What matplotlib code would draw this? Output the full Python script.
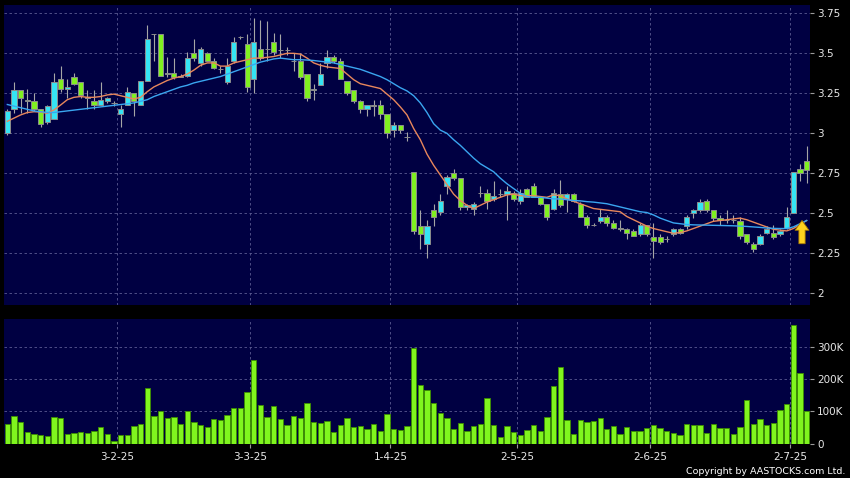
import matplotlib
matplotlib.use("Agg")
import matplotlib.pyplot as plt
from matplotlib.ticker import FixedLocator, FuncFormatter
import numpy as np
import pandas as pd

# HKEX trading days, 6 Jan - 4 Jul 2025
holidays = ["2025-01-29", "2025-01-30", "2025-01-31", "2025-04-04", "2025-04-18",
            "2025-04-21", "2025-05-01", "2025-05-05", "2025-07-01"]
dates = [d for d in pd.bdate_range("2025-01-06", "2025-07-04")
         if d.strftime("%Y-%m-%d") not in holidays]

# daily prices
opens = [3.00, 3.15, 3.27, 3.21, 3.20, 3.15, 3.07, 3.09, 3.34, 3.28,
         3.35, 3.32, 3.22, 3.20, 3.18, 3.20, 3.19, 3.12, 3.18, 3.25,
         3.18, 3.33, 3.62, 3.62, 3.37, 3.38, 3.35, 3.36, 3.50, 3.44,
         3.50, 3.45, 3.40, 3.32, 3.45, 3.60, 3.56, 3.34, 3.53, 3.53,
         3.57, 3.52, 3.52, 3.45, 3.45, 3.37, 3.27, 3.30, 3.44, 3.48,
         3.45, 3.33, 3.27, 3.20, 3.15, 3.18, 3.18, 3.12, 3.02, 3.05,
         2.98, 2.76, 2.42, 2.31, 2.52, 2.51, 2.67, 2.75, 2.72, 2.54,
         2.53, 2.63, 2.63, 2.59, 2.62, 2.62, 2.63, 2.58, 2.65, 2.67,
         2.60, 2.56, 2.53, 2.62, 2.59, 2.62, 2.56, 2.48, 2.43, 2.45,
         2.48, 2.44, 2.41, 2.40, 2.39, 2.37, 2.43, 2.35, 2.35, 2.34,
         2.37, 2.40, 2.42, 2.50, 2.52, 2.58, 2.52, 2.47, 2.46, 2.46,
         2.45, 2.37, 2.31, 2.31, 2.38, 2.38, 2.37, 2.41, 2.50, 2.78,
         2.83]
highs = [3.15, 3.32, 3.27, 3.28, 3.25, 3.15, 3.18, 3.38, 3.42, 3.34,
         3.38, 3.32, 3.27, 3.27, 3.32, 3.23, 3.20, 3.18, 3.29, 3.25,
         3.33, 3.68, 3.62, 3.62, 3.48, 3.47, 3.37, 3.51, 3.59, 3.54,
         3.51, 3.47, 3.42, 3.47, 3.60, 3.61, 3.62, 3.72, 3.71, 3.70,
         3.63, 3.62, 3.54, 3.50, 3.50, 3.37, 3.31, 3.44, 3.52, 3.49,
         3.47, 3.33, 3.27, 3.21, 3.18, 3.21, 3.21, 3.12, 3.07, 3.05,
         3.01, 2.76, 2.52, 2.46, 2.56, 2.62, 2.74, 2.78, 2.72, 2.56,
         2.57, 2.67, 2.65, 2.70, 2.65, 2.67, 2.64, 2.65, 2.66, 2.69,
         2.61, 2.56, 2.65, 2.71, 2.63, 2.63, 2.57, 2.49, 2.44, 2.53,
         2.49, 2.46, 2.46, 2.41, 2.40, 2.44, 2.43, 2.44, 2.37, 2.36,
         2.41, 2.41, 2.49, 2.53, 2.59, 2.59, 2.52, 2.49, 2.52, 2.49,
         2.48, 2.37, 2.32, 2.37, 2.42, 2.43, 2.40, 2.54, 2.76, 2.81,
         2.92]
lows = [2.99, 3.13, 3.13, 3.13, 3.14, 3.04, 3.06, 3.09, 3.26, 3.22,
        3.30, 3.22, 3.15, 3.15, 3.18, 3.19, 3.17, 3.04, 3.18, 3.11,
        3.18, 3.33, 3.45, 3.36, 3.35, 3.34, 3.35, 3.35, 3.45, 3.42,
        3.45, 3.40, 3.38, 3.31, 3.44, 3.59, 3.26, 3.25, 3.46, 3.45,
        3.49, 3.47, 3.49, 3.39, 3.34, 3.20, 3.21, 3.30, 3.41, 3.44,
        3.34, 3.24, 3.19, 3.13, 3.11, 3.11, 3.09, 2.97, 2.98, 3.00,
        2.95, 2.37, 2.28, 2.22, 2.42, 2.49, 2.62, 2.71, 2.52, 2.52,
        2.49, 2.60, 2.53, 2.58, 2.60, 2.46, 2.58, 2.56, 2.60, 2.60,
        2.55, 2.46, 2.52, 2.54, 2.51, 2.57, 2.48, 2.41, 2.42, 2.44,
        2.42, 2.40, 2.39, 2.34, 2.36, 2.36, 2.36, 2.22, 2.31, 2.32,
        2.36, 2.37, 2.40, 2.47, 2.51, 2.51, 2.45, 2.43, 2.44, 2.44,
        2.34, 2.31, 2.26, 2.30, 2.37, 2.34, 2.36, 2.40, 2.50, 2.70,
        2.69]
closes = [3.14, 3.27, 3.22, 3.20, 3.15, 3.06, 3.17, 3.32, 3.28, 3.29,
          3.31, 3.24, 3.23, 3.18, 3.21, 3.22, 3.19, 3.15, 3.26, 3.20,
          3.33, 3.59, 3.62, 3.36, 3.38, 3.35, 3.36, 3.47, 3.47, 3.53,
          3.45, 3.41, 3.40, 3.42, 3.57, 3.60, 3.29, 3.57, 3.47, 3.53,
          3.51, 3.52, 3.52, 3.45, 3.35, 3.22, 3.28, 3.37, 3.48, 3.45,
          3.34, 3.25, 3.20, 3.15, 3.18, 3.17, 3.12, 3.00, 3.05, 3.02,
          2.98, 2.39, 2.37, 2.42, 2.48, 2.58, 2.73, 2.72, 2.54, 2.55,
          2.56, 2.63, 2.58, 2.61, 2.62, 2.64, 2.59, 2.63, 2.60, 2.60,
          2.56, 2.48, 2.63, 2.55, 2.62, 2.58, 2.48, 2.43, 2.43, 2.48,
          2.44, 2.41, 2.40, 2.38, 2.36, 2.43, 2.37, 2.33, 2.32, 2.34,
          2.40, 2.38, 2.48, 2.52, 2.57, 2.52, 2.47, 2.46, 2.46, 2.46,
          2.36, 2.32, 2.28, 2.36, 2.40, 2.35, 2.39, 2.48, 2.76, 2.75,
          2.77]

# moving averages as drawn (10-day orange, 20-day blue)
ma10 = [3.075, 3.095, 3.115, 3.13, 3.135, 3.133, 3.125, 3.146, 3.177, 3.21,
        3.225, 3.23, 3.225, 3.225, 3.23, 3.24, 3.245, 3.235, 3.225, 3.215,
        3.225, 3.26, 3.29, 3.31, 3.33, 3.345, 3.355, 3.37, 3.395, 3.425,
        3.44, 3.44, 3.42, 3.42, 3.44, 3.45, 3.46, 3.47, 3.47, 3.475,
        3.48, 3.49, 3.50, 3.50, 3.495, 3.47, 3.44, 3.425, 3.415, 3.41,
        3.405, 3.37, 3.335, 3.31, 3.30, 3.29, 3.28, 3.245, 3.21, 3.165,
        3.115, 3.03, 2.96, 2.87, 2.80, 2.74, 2.68, 2.62, 2.58, 2.55,
        2.53, 2.55, 2.57, 2.585, 2.60, 2.615, 2.62, 2.61, 2.61, 2.61,
        2.605, 2.60, 2.615, 2.61, 2.59, 2.575, 2.56, 2.545, 2.53, 2.525,
        2.52, 2.515, 2.51, 2.48, 2.46, 2.44, 2.42, 2.405, 2.395, 2.385,
        2.375, 2.38, 2.39, 2.405, 2.42, 2.435, 2.45, 2.455, 2.46, 2.465,
        2.47, 2.46, 2.445, 2.43, 2.415, 2.40, 2.395, 2.39, 2.405, 2.43,
        2.455]
ma20 = [3.18, 3.17, 3.16, 3.15, 3.14, 3.135, 3.13, 3.13, 3.135, 3.14,
        3.145, 3.15, 3.155, 3.16, 3.165, 3.17, 3.175, 3.18, 3.185, 3.19,
        3.20, 3.21, 3.23, 3.245, 3.26, 3.275, 3.29, 3.30, 3.315, 3.325,
        3.335, 3.345, 3.355, 3.37, 3.385, 3.40, 3.415, 3.43, 3.445, 3.455,
        3.465, 3.47, 3.465, 3.46, 3.46, 3.458, 3.455, 3.45, 3.445, 3.44,
        3.43, 3.42, 3.41, 3.40, 3.385, 3.37, 3.355, 3.335, 3.31, 3.285,
        3.265, 3.235, 3.19, 3.13, 3.06, 3.02, 3.00, 2.96, 2.925, 2.885,
        2.845, 2.81, 2.785, 2.76, 2.72, 2.685, 2.655, 2.625, 2.605, 2.60,
        2.60, 2.595, 2.59, 2.59, 2.585, 2.58, 2.578, 2.573, 2.57, 2.565,
        2.56, 2.55, 2.54, 2.53, 2.52, 2.51, 2.505, 2.49, 2.47, 2.455,
        2.44, 2.435, 2.43, 2.428, 2.427, 2.426, 2.425, 2.424, 2.423, 2.422,
        2.42, 2.418, 2.415, 2.412, 2.408, 2.406, 2.405, 2.405, 2.415, 2.435,
        2.455]

# volume, thousands of shares
volume_k = [61, 86, 66, 35, 29, 28, 24, 83, 81, 31,
            33, 35, 33, 40, 50, 30, 8, 27, 26, 53,
            62, 172, 86, 100, 81, 82, 62, 100, 67, 59,
            50, 75, 73, 90, 110, 111, 161, 261, 120, 83,
            118, 77, 57, 87, 81, 125, 67, 65, 69, 35,
            58, 80, 50, 55, 45, 62, 40, 91, 45, 41,
            54, 299, 182, 167, 125, 94, 80, 45, 64, 39,
            54, 62, 142, 59, 19, 55, 36, 25, 42, 57,
            38, 83, 179, 239, 72, 31, 72, 67, 70, 78,
            45, 56, 29, 51, 40, 39, 49, 57, 49, 38,
            34, 28, 60, 57, 57, 32, 60, 48, 48, 30,
            50, 137, 62, 75, 59, 65, 103, 122, 370, 219,
            101]

price_ticks = [2, 2.25, 2.5, 2.75, 3, 3.25, 3.5, 3.75]
vol_ticks = [0, 100000, 200000, 300000]

BG = "#000042"
UP = "#35e4f4"
DOWN = "#80f020"
GRID = "#5a5a92"
TXT = "#e8e8e8"

o = np.array(opens)
h = np.array(highs)
l = np.array(lows)
c = np.array(closes)
x = np.arange(len(dates))
vol = np.array(volume_k) * 1000

# first trading day of each month -> grid / date labels
month_idx = [i for i in range(1, len(dates)) if dates[i].month != dates[i - 1].month]
month_pos = [i - 0.5 for i in month_idx]
month_lab = ["%d-%d-%s" % (dates[i].day, dates[i].month, dates[i].strftime("%y")) for i in month_idx]

fig = plt.figure(figsize=(8.5, 4.78), dpi=100, facecolor="black")
ax = fig.add_axes([4 / 850, 1 - 305 / 478, 806 / 850, 300 / 478])
ax2 = fig.add_axes([4 / 850, 1 - 443.5 / 478, 806 / 850, 124.5 / 478])

for a in (ax, ax2):
    a.set_facecolor(BG)
    for s in a.spines.values():
        s.set_visible(False)
    a.set_xlim(-0.5, len(dates) - 0.5)
    a.xaxis.set_major_locator(FixedLocator(month_pos))
    a.yaxis.tick_right()
    a.grid(True, color=GRID, linestyle=(0, (3, 3)), linewidth=0.6)
    a.set_axisbelow(True)
    a.tick_params(axis="y", colors="#9a9a9a", labelcolor=TXT, length=3,
                  width=0.8, pad=2, labelsize=7.5)

# candles
up = c >= o
ax.vlines(x, l, h, color="#a6a6a6", linewidth=0.8, zorder=2)
ax.bar(x, np.abs(c - o), bottom=np.minimum(o, c), width=0.78,
       color=np.where(up, UP, DOWN), edgecolor="#8c8c8c", linewidth=0.7, zorder=3)
ax.plot(x, ma10, color="#e8875c", linewidth=1.0, zorder=4)
ax.plot(x, ma20, color="#3aa6f0", linewidth=1.0, zorder=4)

# signal arrow under the last MA value
ax.annotate("", xy=(x[-1] - 0.7, ma20[-1]), xytext=(x[-1] - 0.7, ma20[-1] - 0.145),
            arrowprops=dict(arrowstyle="simple,head_length=0.7,head_width=1.0,tail_width=0.45",
                            fc="#ffd21f", ec="#a87800", lw=0.6, shrinkA=0, shrinkB=0),
            zorder=5)

ax.set_ylim(1.927, 3.802)
ax.yaxis.set_major_locator(FixedLocator(price_ticks))
ax.yaxis.set_major_formatter(FuncFormatter(lambda v, p: "%g" % v))
ax.tick_params(axis="x", length=0, labelbottom=False)

# volume
ax2.bar(x, vol, width=0.8, color="#80f51e", edgecolor="#3d8f00", linewidth=0.6, zorder=3)
ax2.set_ylim(0, 388000)
ax2.yaxis.set_major_locator(FixedLocator(vol_ticks))
ax2.yaxis.set_major_formatter(FuncFormatter(lambda v, p: "0" if v == 0 else "%dK" % (v / 1000)))
ax2.set_xticklabels(month_lab)
ax2.tick_params(axis="x", colors="#9a9a9a", labelcolor=TXT, length=3, width=0.8,
                pad=3, labelsize=7.5)

fig.text(0.995, 0.004, "Copyright by AASTOCKS.com Ltd.", ha="right", va="bottom",
         color="white", fontsize=6.8)

fig.savefig("out.png", dpi=100, facecolor="black")
